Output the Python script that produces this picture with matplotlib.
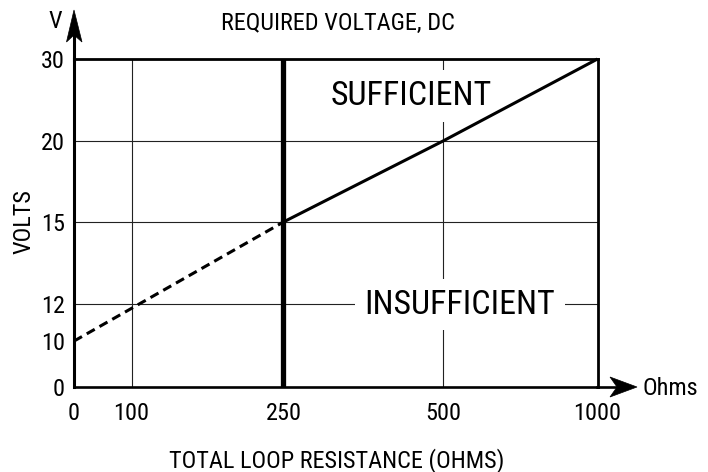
import numpy as np
import matplotlib
matplotlib.use("Agg")
import matplotlib.pyplot as plt
from matplotlib.patches import Polygon
from matplotlib.lines import Line2D

# ---------------- data ----------------
x_ticks = [0, 100, 250, 500, 1000]
x_tick_labels = ["0", "100", "250", "500", "1000"]
y_ticks = [0, 10, 12, 15, 20, 30]
y_tick_labels = ["0", "10", "12", "15", "20", "30"]

extrap_ohms = [0, 250]          # dashed part
extrap_volts = [10, 15]
required_ohms = [250, 500, 1000]  # solid part
required_volts = [15, 20, 30]

grid_ohms = [100, 500]
grid_volts = [12, 15, 20]
min_ohms = 250

# uneven spacing used by the diagram (fraction of axis length per tick)
x_frac = [0.0, 0.110, 0.400, 0.705, 1.0]
y_frac = [0.0, 0.140, 0.254, 0.503, 0.750, 1.0]

# ---------------- figure ----------------
plt.rcParams["font.family"] = ["Roboto Condensed", "Liberation Sans", "DejaVu Sans"]
W, H = 708, 472
fig = plt.figure(figsize=(W / 100, H / 100), dpi=100)


def px(x, y):
    return x / W, 1 - y / H


ax = fig.add_axes([74 / W, (H - 387) / H, 523.5 / W, 328 / H])

ax.set_xscale("function", functions=(lambda v: np.interp(v, x_ticks, x_frac),
                                     lambda v: np.interp(v, x_frac, x_ticks)))
ax.set_yscale("function", functions=(lambda v: np.interp(v, y_ticks, y_frac),
                                     lambda v: np.interp(v, y_frac, y_ticks)))
ax.set_xlim(x_ticks[0], x_ticks[-1])
ax.set_ylim(y_ticks[0], y_ticks[-1])

ax.set_xticks(x_ticks, x_tick_labels)
ax.set_yticks(y_ticks, y_tick_labels)
ax.minorticks_off()
ax.tick_params(axis="x", length=0, pad=10.5, labelsize=17.5)
ax.tick_params(axis="y", length=0, pad=6.5, labelsize=17.5)

for side, lw in (("left", 2.2), ("bottom", 1.9), ("top", 2.0), ("right", 2.0)):
    ax.spines[side].set_linewidth(lw)
    ax.spines[side].set_color("black")

# grid
for g in grid_ohms:
    ax.axvline(g, color="#222222", lw=0.8, zorder=1)
for g in grid_volts:
    ax.axhline(g, color="#222222", lw=0.8, zorder=1)

# minimum-resistance line
ax.axvline(min_ohms, color="black", lw=3.8, zorder=3)

# required voltage curve
ax.plot(extrap_ohms, extrap_volts, color="black", lw=2.2,
        linestyle=(0, (3.0, 1.8)), zorder=4, clip_on=False)
ax.plot(required_ohms, required_volts, color="black", lw=2.2,
        solid_capstyle="butt", zorder=4, clip_on=False)

# region labels
box = dict(boxstyle="square,pad=0.28", facecolor="white", edgecolor="none")
ax.text(*px(411.5, 105), "SUFFICIENT", transform=fig.transFigure, fontsize=24.5,
        ha="center", va="baseline", bbox=box, zorder=2)
ax.text(*px(460, 313.7), "INSUFFICIENT", transform=fig.transFigure, fontsize=24.5,
        ha="center", va="baseline", bbox=box, zorder=2)

# axis arrows
fig.add_artist(Line2D([74 / W, 74 / W], [1 - 60 / H, 1 - 32 / H], color="black", lw=2.2))
fig.add_artist(Polygon([px(74, 10), px(82, 42), px(74, 35), px(66.5, 42)],
                       closed=True, facecolor="black", edgecolor="black", lw=0.5,
                       transform=fig.transFigure))
fig.add_artist(Line2D([597 / W, 617 / W], [1 - 387 / H, 1 - 387 / H], color="black", lw=1.9))
fig.add_artist(Polygon([px(637, 387), px(610, 397), px(617, 387), px(610, 377)],
                       closed=True, facecolor="black", edgecolor="black", lw=0.5,
                       transform=fig.transFigure))

# texts
fig.text(*px(337.5, 30), "REQUIRED VOLTAGE, DC", fontsize=17.5, ha="center", va="baseline")
fig.text(*px(55, 28), "V", fontsize=17.5, ha="center", va="baseline")
fig.text(*px(643, 395), "Ohms", fontsize=17.5, ha="left", va="baseline")
fig.text(*px(30, 221.5), "VOLTS", fontsize=17.5, rotation=90, rotation_mode="anchor",
         ha="center", va="baseline")
fig.text(*px(336.5, 467), "TOTAL LOOP RESISTANCE (OHMS)", fontsize=17.5,
         ha="center", va="baseline")

fig.savefig("out.png", dpi=100, facecolor="white")
